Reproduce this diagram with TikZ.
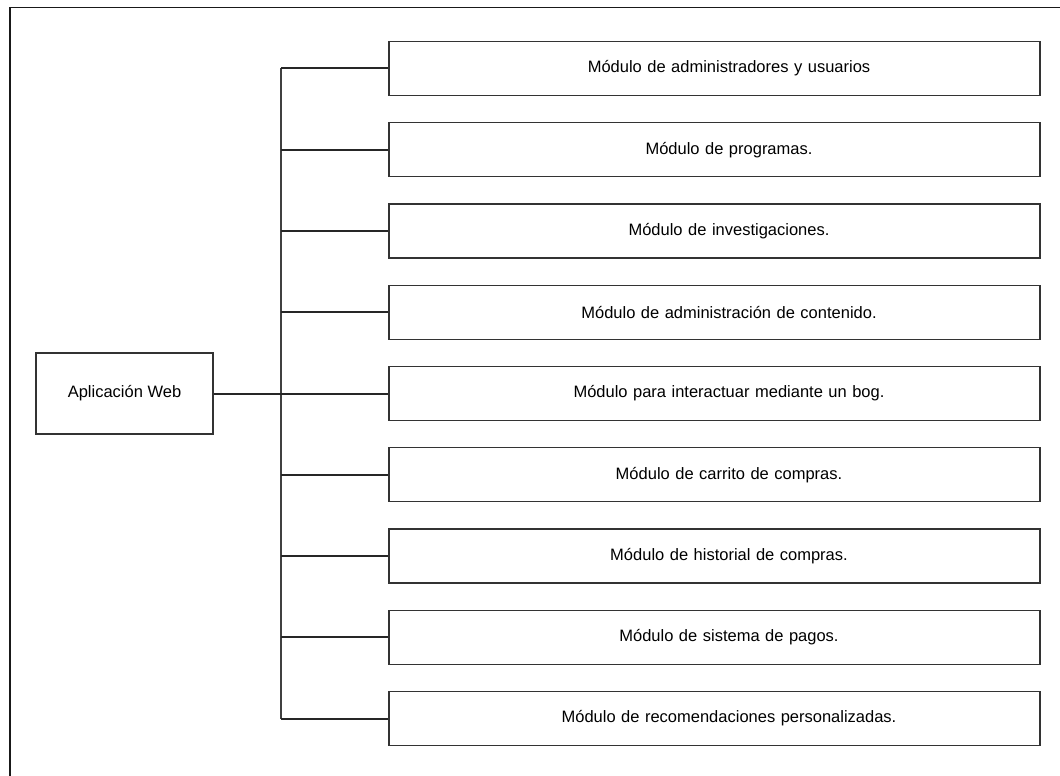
\documentclass[tikz,border=0pt]{standalone}
\usepackage{fontspec}
\setmainfont{Liberation Sans}
\begin{document}
\begin{tikzpicture}[x=1pt,y=-1pt,
  box/.style={draw=black!80, line width=1.3pt, minimum height=54pt, inner sep=0pt, font=\fontsize{16.5}{19}\selectfont},
  mod/.style={box, minimum width=651pt},
  root/.style={box, minimum width=177pt, minimum height=81pt},
  link/.style={draw=black!85, line width=2pt},
  trunk/.style={draw=black!75, line width=1.3pt}]
\useasboundingbox (0,0) rectangle (1060,776);
% page frame (top and left edges)
\draw[line width=1.6pt, black!90] (10,776) -- (10,7.5) -- (1060,7.5);
% root node
\node[root] (app) at (124.5,393.5) {Aplicación Web};
% module boxes
\foreach \i/\txt in {
  1/{Módulo de administradores y usuarios},
  2/{Módulo de programas.},
  3/{Módulo de investigaciones.},
  4/{Módulo de administración de contenido.},
  5/{Módulo para interactuar mediante un bog.},
  6/{Módulo de carrito de compras.},
  7/{Módulo de historial de compras.},
  8/{Módulo de sistema de pagos.},
  9/{Módulo de recomendaciones personalizadas.}} {
  \node[mod, text width=651pt, align=center] (m\i) at (714.5,{68.5+81.25*(\i-1)}) {\hspace*{29pt}\txt};
}
% trunk
\coordinate (t1) at (281,0 |- m1.west);
\coordinate (t9) at (281,0 |- m9.west);
\coordinate (t5) at (281,0 |- m5.west);
\draw[trunk] (t1) -- (t9);
% branches
\foreach \i in {1,...,9} {
  \draw[link] (281,0 |- m\i.west) -- (m\i.west);
}
\draw[link] (app.east) -- (t5);
\end{tikzpicture}
\end{document}
